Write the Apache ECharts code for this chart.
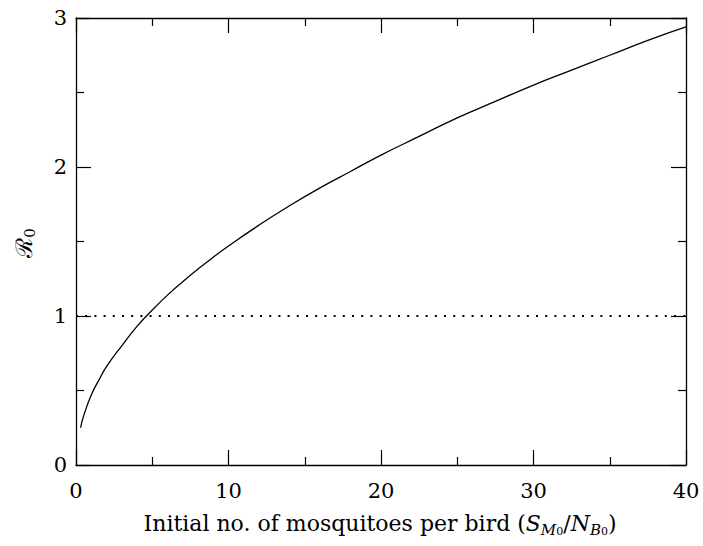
<!DOCTYPE html>
<html>
<head>
<meta charset="utf-8">
<script src="https://cdn.jsdelivr.net/npm/echarts@6/dist/echarts.min.js"></script>
<style>
	html, body { margin: 0; padding: 0; background: #fff; }
</style>
</head>
<body>
<div id="main" style="width: 703px;height:546px;"></div>
<script type="text/javascript">
	// data
	var mosquitoesPerBird = [0.3, 0.5, 1, 1.5, 2, 3, 4, 5, 6, 7, 8, 9, 10, 12, 14, 16, 18, 20, 22.5, 25, 27.5, 30, 32.5, 35, 37.5, 40];
	var r0Values = [0.25, 0.33, 0.47, 0.57, 0.66, 0.80, 0.93, 1.04, 1.14, 1.23, 1.315, 1.395, 1.47, 1.61, 1.74, 1.86, 1.97, 2.08, 2.205, 2.33, 2.44, 2.55, 2.65, 2.75, 2.85, 2.94];
	var thresholdX = [0, 40];
	var thresholdY = [1, 1];

	var serif = 'DejaVu Serif';
	var chart = echarts.init(document.getElementById('main'), null, { renderer: 'svg' });

	var curve = [];
	for (var i = 0; i < mosquitoesPerBird.length; i++) {
		curve.push([mosquitoesPerBird[i], r0Values[i]]);
	}
	var threshold = [];
	for (var j = 0; j < thresholdX.length; j++) {
		threshold.push([thresholdX[j], thresholdY[j]]);
	}

	function axisBase(show) {
		return {
			axisLine: { show: true, onZero: false, lineStyle: { color: '#000', width: 1.3 } },
			axisTick: { show: true, inside: true, length: 15, lineStyle: { color: '#000', width: 1.2 } },
			minorTick: { show: true, splitNumber: 2, length: 8, lineStyle: { color: '#000', width: 1.2 } },
			splitLine: { show: false },
			axisLabel: { show: show, color: '#000', fontFamily: serif, fontSize: 21 }
		};
	}

	var xBottom = Object.assign(axisBase(true), { type: 'value', position: 'bottom', min: 0, max: 40, interval: 10 });
	xBottom.axisLabel.margin = 15;
	var xTop = Object.assign(axisBase(false), { type: 'value', position: 'top', min: 0, max: 40, interval: 10 });
	var yLeft = Object.assign(axisBase(true), { type: 'value', position: 'left', min: 0, max: 3, interval: 1 });
	yLeft.axisLabel.margin = 9;
	var yRight = Object.assign(axisBase(false), { type: 'value', position: 'right', min: 0, max: 3, interval: 1 });

	chart.setOption({
		animation: false,
		grid: { left: 76, right: 17, top: 18, bottom: 81, containLabel: false },
		xAxis: [xBottom, xTop],
		yAxis: [yLeft, yRight],
		graphic: [{
			type: 'text',
			x: 380, y: 523,
			style: {
				text: '{r|Initial no. of mosquitoes per bird (}{i|S}{s|M}{ss|0}{r|/}{i|N}{s|B}{ss|0}{r|)}',
				align: 'center', verticalAlign: 'middle',
				rich: {
					r: { fontFamily: serif, fontSize: 22, lineHeight: 28, fill: '#000' },
					i: { fontFamily: serif, fontSize: 22, lineHeight: 28, fontStyle: 'italic', fill: '#000' },
					s: { fontFamily: serif, fontSize: 15, lineHeight: 13, verticalAlign: 'bottom', fontStyle: 'italic', fill: '#000' },
					ss: { fontFamily: serif, fontSize: 11, lineHeight: 4, verticalAlign: 'bottom', fill: '#000' }
				}
			}
		}, {
			type: 'text',
			x: 24, y: 243,
			rotation: Math.PI / 2,
			style: {
				text: '{r|ℛ}{s|0}',
				align: 'center', verticalAlign: 'middle',
				rich: {
					r: { fontFamily: serif, fontSize: 23, lineHeight: 26, fill: '#000' },
					s: { fontFamily: serif, fontSize: 15, lineHeight: 12, verticalAlign: 'bottom', fill: '#000' }
				}
			}
		}],
		series: [{
			type: 'line',
			xAxisIndex: 0, yAxisIndex: 0,
			data: curve,
			smooth: true,
			showSymbol: false,
			lineStyle: { color: '#000', width: 1.3 }
		}, {
			type: 'line',
			xAxisIndex: 0, yAxisIndex: 0,
			data: threshold,
			showSymbol: false,
			lineStyle: { color: '#000', width: 2, type: [2, 7.2], cap: 'butt' }
		}]
	});
</script>
</body>
</html>
